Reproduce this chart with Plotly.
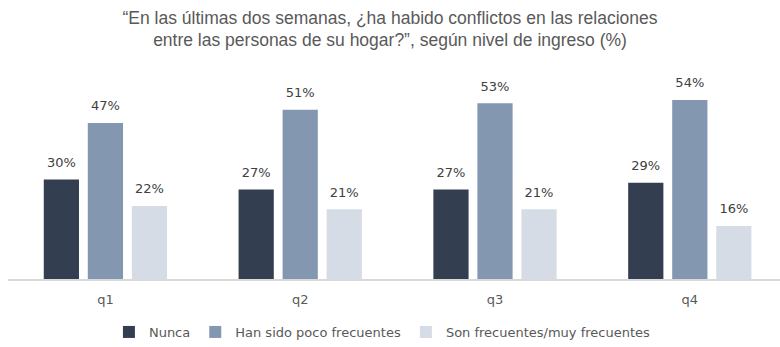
import plotly.graph_objects as go

# Income quartiles and share of answers (%) per category
quartiles = ["q1", "q2", "q3", "q4"]
nunca = [30, 27, 27, 29]
poco_frecuentes = [47, 51, 53, 54]
frecuentes = [22, 21, 21, 16]

series_names = ["Nunca", "Han sido poco frecuentes", "Son frecuentes/muy frecuentes"]
series_values = [nunca, poco_frecuentes, frecuentes]
series_colors = ["#333F50", "#8497B0", "#D6DCE5"]

LABEL_LIFT = 2.0  # value units of empty space between bar top and its label

fig = go.Figure()
for i, (name, vals, color) in enumerate(zip(series_names, series_values, series_colors)):
    fig.add_trace(go.Bar(
        x=quartiles, y=vals, name=name, offsetgroup=str(i),
        marker=dict(color=color, line=dict(width=0)),
        hoverinfo="skip",
    ))
    # transparent spacer stacked on each bar carrying the value label
    fig.add_trace(go.Bar(
        x=quartiles, y=[LABEL_LIFT] * len(vals), base=vals, offsetgroup=str(i),
        marker=dict(color="rgba(0,0,0,0)", line=dict(width=0)),
        text=[f"{v}%" for v in vals], textposition="outside", constraintext="none",
        cliponaxis=False,
        textfont=dict(family="DejaVu Sans", size=13, color="#404040"),
        showlegend=False, hoverinfo="skip",
    ))

fig.update_layout(
    width=780, height=347,
    margin=dict(l=8, r=0, t=80, b=67),
    paper_bgcolor="white", plot_bgcolor="white",
    barmode="group", bargap=0.322, bargroupgap=0.2,
    title=dict(
        text="“En las últimas dos semanas, ¿ha habido conflictos en las relaciones<br>"
             "entre las personas de su hogar?”, según nivel de ingreso (%)",
        x=0.5, xanchor="center", y=0.932, yanchor="middle", yref="container",
        font=dict(family="Liberation Sans", size=17.5, color="#595959"),
    ),
    xaxis=dict(
        range=[-0.5, 3.463], showgrid=False, ticks="",
        showline=True, linecolor="#D9D9D9", linewidth=1.5,
        tickfont=dict(family="DejaVu Sans", size=13, color="#595959"),
        ticklabelstandoff=8,
    ),
    yaxis=dict(range=[0, 60], visible=False, showgrid=False, zeroline=False),
    legend=dict(
        orientation="h", x=0.485, xanchor="center", y=-0.265, yanchor="middle",
        font=dict(family="DejaVu Sans", size=13, color="#595959"),
        traceorder="normal",
    ),
    showlegend=True,
)

fig.write_html("out.html")
